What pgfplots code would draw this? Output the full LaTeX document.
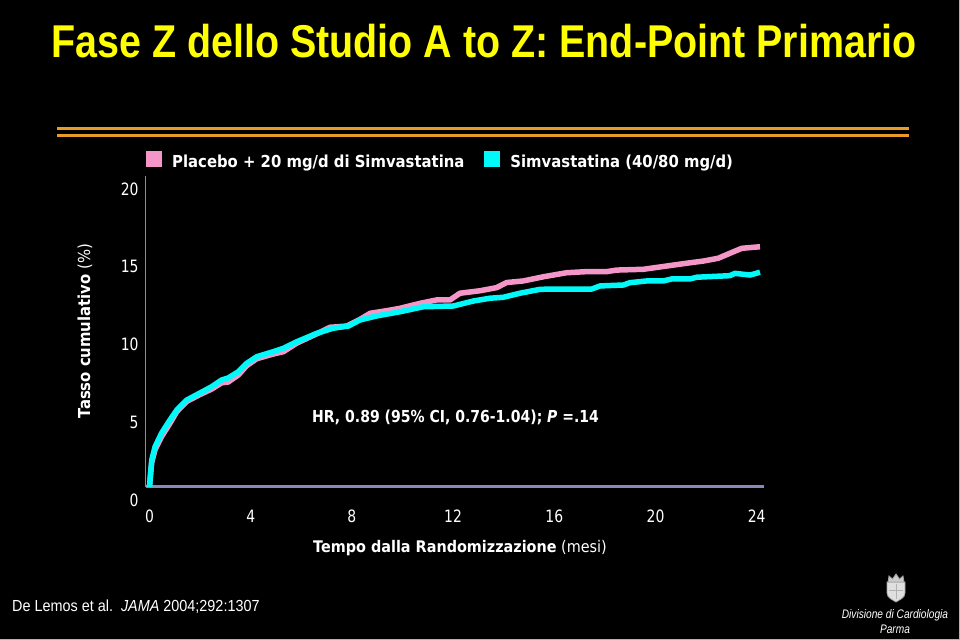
\documentclass[border=0pt]{standalone}
\usepackage{pgfplots}
\pgfplotsset{compat=1.18}
\usepackage{fontspec}
\setmainfont{DejaVu Sans}
\newfontfamily\narrowfont[FakeStretch=0.82]{DejaVu Sans}
\newfontfamily\labelfont[FakeStretch=0.9]{DejaVu Sans}
\newfontfamily\hrfont[FakeStretch=0.85]{DejaVu Sans}
\newfontfamily\titlefont[FakeStretch=0.857]{Liberation Sans}
\newfontfamily\footfont[FakeStretch=0.9]{Liberation Sans}
\newfontfamily\smallfont[FakeStretch=0.82]{Liberation Sans}
\newcommand\tickfont{\narrowfont\fontsize{17bp}{20bp}\selectfont}

\definecolor{pinkc}{RGB}{245,150,200}
\definecolor{cyanc}{RGB}{0,250,250}
\definecolor{axisc}{RGB}{130,140,180}
\definecolor{orangec}{RGB}{235,155,35}
\definecolor{titley}{RGB}{255,255,0}

% Kaplan-Meier curves (months, cumulative %)
\pgfplotstableread{
t v
0 0
0.05 1.0
0.09 1.6
0.22 2.4
0.48 3.25
0.81 4.1
1.08 4.85
1.47 5.5
2.0 5.95
2.46 6.3
2.85 6.7
3.11 6.75
3.51 7.2
3.84 7.8
4.24 8.25
4.89 8.55
5.29 8.7
5.82 9.25
6.61 9.85
7.13 10.27
7.79 10.35
8.32 10.78
8.72 11.17
9.38 11.34
9.90 11.49
10.69 11.81
11.35 12.03
11.88 12.03
12.27 12.46
13.06 12.62
13.72 12.82
14.12 13.15
14.77 13.25
15.57 13.52
16.49 13.78
17.28 13.85
18.07 13.85
18.47 13.95
19.52 14.0
20.44 14.21
21.23 14.39
21.89 14.53
22.48 14.71
22.94 15.03
23.41 15.35
24.13 15.45
}\placebo

\pgfplotstableread{
t v
0 0
0.05 1.0
0.09 1.74
0.22 2.59
0.48 3.47
0.81 4.31
1.08 4.95
1.47 5.59
2.0 6.05
2.46 6.45
2.85 6.88
3.11 7.01
3.51 7.41
3.84 7.95
4.24 8.38
4.89 8.70
5.29 8.92
5.82 9.34
6.61 9.88
7.26 10.21
7.86 10.35
8.32 10.74
8.98 11.0
9.90 11.27
10.82 11.59
12.01 11.64
12.80 11.96
13.46 12.14
13.98 12.20
14.64 12.46
15.43 12.71
15.90 12.73
17.48 12.73
17.81 12.93
18.73 12.99
18.99 13.14
19.65 13.25
20.31 13.25
20.64 13.38
21.36 13.38
21.63 13.49
22.94 13.59
23.14 13.74
23.74 13.63
24.13 13.81
}\simva

\begin{document}
\begin{tikzpicture}
\path[use as bounding box, fill=black] (0,0) rectangle (960bp,640bp);

% title and rules
\node[anchor=base, inner sep=0pt, text=titley, font=\titlefont\bfseries\fontsize{46bp}{50bp}\selectfont]
  at (484bp,582bp) {Fase Z dello Studio A to Z: End-Point Primario};
\draw[orangec, line width=3.5bp] (57bp,511.7bp) -- (909bp,511.7bp);
\draw[orangec, line width=3.5bp] (57bp,504.3bp) -- (909bp,504.3bp);

\begin{axis}[
    at={(149.5bp,153bp)}, anchor=origin,
    x=25.3bp, y=15.55bp,
    xmin=-0.15, xmax=24.3,
    ymin=0, ymax=20,
    clip=false,
    axis x line*=bottom, axis y line*=left,
    x axis line style={axisc, line width=3bp},
    y axis line style={axisc, line width=1.2bp},
    xtick={0,4,8,12,16,20,24},
    ytick={0,5,10,15,20},
    major tick length=0pt,
    /pgf/number format/assume math mode=true,
    ticklabel style={font=\tickfont, text=white},
    xticklabel style={anchor=north, inner sep=0pt, yshift=-23bp},
    yticklabel style={anchor=east, inner sep=0pt, xshift=-7bp, yshift=-13bp},
    legend columns=2,
    legend image code/.code={\fill[#1, draw=none] (0bp,-5bp) rectangle (16bp,11bp);},
    legend style={at={(axis description cs:0.0005,1.0515)}, anchor=west,
        draw=none, fill=none, text=white, inner sep=0pt,
        font=\labelfont\bfseries\fontsize{16.5bp}{19bp}\selectfont,
        nodes={inner sep=0pt},
        /tikz/every odd column/.append style={column sep=10bp},
        /tikz/every even column/.append style={column sep=20bp}},
]
\addplot[color=pinkc, line width=5.5bp, line join=round] table[x=t, y=v] {\placebo};
\addlegendentry{Placebo + 20 mg/d di Simvastatina}
\addplot[color=cyanc, line width=5.5bp, line join=round] table[x=t, y=v] {\simva};
\addlegendentry{Simvastatina (40/80 mg/d)}
\end{axis}

% axis titles and annotation
\node[rotate=90, text=white, inner sep=0pt, font=\labelfont\fontsize{16.5bp}{19bp}\selectfont]
  at (85bp,309bp) {\textbf{Tasso cumulativo} (\%)};
\node[text=white, inner sep=0pt, font=\labelfont\fontsize{16bp}{19bp}\selectfont]
  at (460bp,92bp) {\textbf{Tempo dalla Randomizzazione} (mesi)};
\node[anchor=base west, text=white, inner sep=0pt, font=\hrfont\bfseries\fontsize{16.5bp}{19bp}\selectfont]
  at (312bp,217bp) {HR, 0.89 (95\% CI, 0.76-1.04); \textit{P} =.14};

% footer
\node[anchor=base west, text=white, inner sep=0pt, font=\footfont\fontsize{16bp}{19bp}\selectfont]
  at (12bp,29bp) {De Lemos et al.\ \ \textit{JAMA} 2004;292:1307};
\node[anchor=base, text=white, inner sep=0pt, font=\smallfont\itshape\fontsize{12.4bp}{14bp}\selectfont]
  at (895bp,22bp) {Divisione di Cardiologia};
\node[anchor=base, text=white, inner sep=0pt, font=\smallfont\itshape\fontsize{12.4bp}{14bp}\selectfont]
  at (895bp,7bp) {Parma};
% small crest
\draw[gray!75, line width=0.8bp, fill=gray!25]
  (887bp,58bp) -- (887bp,47bp) .. controls (887bp,42bp) and (893bp,40bp) .. (896bp,38bp)
  .. controls (899bp,40bp) and (905bp,42bp) .. (905bp,47bp) -- (905bp,58bp) -- cycle;
\draw[gray!75, line width=0.8bp, fill=gray!40]
  (888bp,58bp) -- (889bp,64bp) -- (892.5bp,61bp) -- (896bp,66bp) -- (899.5bp,61bp) -- (903bp,64bp) -- (904bp,58bp) -- cycle;
\draw[gray!60, line width=0.6bp] (896bp,41bp) -- (896bp,56bp) (889bp,50bp) -- (903bp,50bp);

% slide frame
\draw[gray!60, line width=1.5bp] (0,0.75bp) -- (959.25bp,0.75bp) -- (959.25bp,640bp);
\end{tikzpicture}
\end{document}
